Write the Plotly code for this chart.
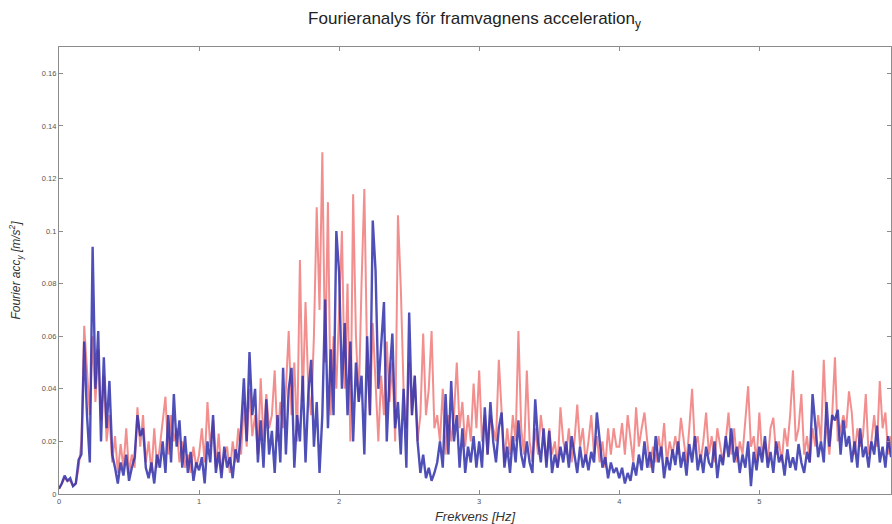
import plotly.graph_objects as go

# Frequency grid step (Hz) and number of samples
freq_step = 0.02
n_points = 298
freq = [round(i * freq_step, 2) for i in range(n_points)]

# Blue series: Fourier amplitude (m/s^2), rows of 0.2 Hz
blue_vals = [
    0.002, 0.004, 0.007, 0.005, 0.006, 0.003, 0.004, 0.013, 0.015, 0.058,
    0.030, 0.012, 0.094, 0.040, 0.062, 0.020, 0.052, 0.025, 0.043, 0.015,
    0.010, 0.004, 0.012, 0.007, 0.015, 0.005, 0.010, 0.014, 0.030, 0.022,
    0.025, 0.010, 0.006, 0.012, 0.004, 0.015, 0.010, 0.020, 0.008, 0.030,
    0.012, 0.038, 0.018, 0.028, 0.010, 0.022, 0.008, 0.016, 0.005, 0.012,
    0.009, 0.014, 0.004, 0.020, 0.012, 0.030, 0.008, 0.016, 0.006, 0.018,
    0.010, 0.014, 0.006, 0.017, 0.012, 0.025, 0.044, 0.020, 0.054, 0.030,
    0.040, 0.012, 0.028, 0.010, 0.036, 0.015, 0.024, 0.008, 0.030, 0.012,
    0.048, 0.015, 0.040, 0.048, 0.010, 0.030, 0.020, 0.045, 0.012, 0.038,
    0.051, 0.018, 0.035, 0.008, 0.030, 0.074, 0.025, 0.055, 0.030, 0.100,
    0.084, 0.040, 0.065, 0.030, 0.058, 0.020, 0.050, 0.035, 0.045, 0.015,
    0.060, 0.030, 0.104, 0.085, 0.040, 0.055, 0.073, 0.020, 0.045, 0.061,
    0.025, 0.035, 0.015, 0.040, 0.010, 0.069, 0.030, 0.045, 0.020, 0.008,
    0.015, 0.006, 0.010, 0.005, 0.008, 0.012, 0.020, 0.010, 0.038, 0.015,
    0.043, 0.020, 0.030, 0.010, 0.025, 0.008, 0.018, 0.012, 0.022, 0.010,
    0.020, 0.010, 0.033, 0.015, 0.035, 0.020, 0.012, 0.025, 0.031, 0.010,
    0.018, 0.008, 0.022, 0.012, 0.028, 0.015, 0.010, 0.020, 0.012, 0.008,
    0.036, 0.020, 0.012, 0.025, 0.010, 0.024, 0.008, 0.015, 0.010, 0.018,
    0.012, 0.020, 0.010, 0.022, 0.014, 0.008, 0.018, 0.010, 0.015, 0.009,
    0.016, 0.012, 0.031, 0.020, 0.010, 0.014, 0.006, 0.012, 0.008, 0.010,
    0.006, 0.010, 0.004, 0.008, 0.005, 0.012, 0.007, 0.015, 0.009, 0.020,
    0.010, 0.016, 0.008, 0.022, 0.012, 0.018, 0.006, 0.014, 0.009, 0.017,
    0.011, 0.020, 0.010, 0.016, 0.007, 0.019, 0.012, 0.022, 0.009, 0.015,
    0.008, 0.018, 0.012, 0.010, 0.020, 0.006, 0.015, 0.011, 0.022, 0.014,
    0.025, 0.012, 0.018, 0.008, 0.015, 0.010, 0.020, 0.003, 0.016, 0.009,
    0.018, 0.012, 0.022, 0.010, 0.016, 0.008, 0.020, 0.012, 0.015, 0.007,
    0.017, 0.010, 0.014, 0.009, 0.019, 0.012, 0.008, 0.016, 0.012, 0.038,
    0.025, 0.014, 0.020, 0.012, 0.035, 0.018, 0.030, 0.028, 0.032, 0.015,
    0.028, 0.018, 0.022, 0.012, 0.020, 0.010, 0.025, 0.014, 0.018, 0.010,
    0.020, 0.015, 0.026, 0.012, 0.018, 0.010, 0.022, 0.014,
]

# Red series: Fourier amplitude (m/s^2), rows of 0.2 Hz
red_vals = [
    0.002, 0.004, 0.006, 0.005, 0.005, 0.003, 0.004, 0.010, 0.020, 0.064,
    0.049, 0.030, 0.060, 0.035, 0.055, 0.028, 0.045, 0.020, 0.030, 0.012,
    0.022, 0.008, 0.019, 0.010, 0.025, 0.008, 0.015, 0.010, 0.033, 0.018,
    0.030, 0.012, 0.020, 0.008, 0.025, 0.010, 0.018, 0.028, 0.037, 0.015,
    0.030, 0.020, 0.025, 0.012, 0.020, 0.010, 0.015, 0.008, 0.018, 0.010,
    0.015, 0.025, 0.012, 0.035, 0.018, 0.028, 0.010, 0.023, 0.008, 0.015,
    0.018, 0.008, 0.020, 0.012, 0.025, 0.015, 0.035, 0.018, 0.040, 0.022,
    0.030, 0.015, 0.044, 0.020, 0.038, 0.025, 0.030, 0.047, 0.020, 0.035,
    0.025, 0.040, 0.062, 0.030, 0.050, 0.020, 0.089, 0.035, 0.073, 0.040,
    0.030, 0.060, 0.109, 0.070, 0.130, 0.050, 0.111, 0.030, 0.060, 0.040,
    0.070, 0.100, 0.040, 0.080, 0.020, 0.114, 0.060, 0.035, 0.080, 0.116,
    0.050, 0.030, 0.065, 0.040, 0.020, 0.045, 0.030, 0.058, 0.035, 0.050,
    0.020, 0.106, 0.079, 0.040, 0.025, 0.050, 0.030, 0.045, 0.020, 0.030,
    0.061, 0.030, 0.040, 0.062, 0.025, 0.030, 0.020, 0.040, 0.015, 0.030,
    0.020, 0.030, 0.050, 0.025, 0.035, 0.018, 0.030, 0.020, 0.042, 0.025,
    0.047, 0.020, 0.030, 0.015, 0.030, 0.025, 0.020, 0.051, 0.030, 0.012,
    0.025, 0.015, 0.030, 0.020, 0.062, 0.025, 0.015, 0.047, 0.020, 0.012,
    0.025, 0.015, 0.030, 0.020, 0.012, 0.025, 0.015, 0.020, 0.010, 0.033,
    0.020, 0.015, 0.025, 0.012, 0.020, 0.034, 0.018, 0.025, 0.012, 0.020,
    0.030, 0.015, 0.022, 0.012, 0.020, 0.010, 0.025, 0.015, 0.025, 0.018,
    0.018, 0.027, 0.015, 0.030, 0.020, 0.012, 0.033, 0.018, 0.025, 0.031,
    0.020, 0.010, 0.018, 0.012, 0.022, 0.015, 0.027, 0.012, 0.020, 0.015,
    0.022, 0.015, 0.029, 0.020, 0.012, 0.025, 0.040, 0.018, 0.022, 0.012,
    0.020, 0.031, 0.015, 0.022, 0.012, 0.025, 0.018, 0.012, 0.020, 0.031,
    0.015, 0.025, 0.012, 0.020, 0.015, 0.030, 0.041, 0.018, 0.022, 0.012,
    0.031, 0.015, 0.020, 0.012, 0.025, 0.029, 0.015, 0.020, 0.012, 0.025,
    0.018, 0.030, 0.047, 0.020, 0.025, 0.038, 0.015, 0.022, 0.012, 0.025,
    0.018, 0.030, 0.020, 0.051, 0.025, 0.015, 0.030, 0.052, 0.020, 0.025,
    0.030, 0.025, 0.039, 0.031, 0.015, 0.025, 0.018, 0.022, 0.038, 0.015,
    0.020, 0.030, 0.018, 0.043, 0.025, 0.031, 0.015, 0.022,
]

x_tick_vals = [0, 1, 2, 3, 4, 5]
x_tick_text = ["0", "1", "2", "3", "4", "5"]
y_tick_vals = [0, 0.02, 0.04, 0.06, 0.08, 0.1, 0.12, 0.14, 0.16]
y_tick_text = ["0", "0.02", "0.04", "0.06", "0.08", "0.1", "0.12", "0.14", "0.16"]

fig = go.Figure()
fig.add_trace(go.Scatter(
    x=freq[:len(red_vals)], y=red_vals, mode="lines",
    line=dict(color="rgba(238,98,98,0.72)", width=2.0),
    showlegend=False, hoverinfo="x+y",
))
fig.add_trace(go.Scatter(
    x=freq[:len(blue_vals)], y=blue_vals, mode="lines",
    line=dict(color="rgba(48,48,172,0.85)", width=2.4),
    showlegend=False, hoverinfo="x+y",
))

axis_common = dict(
    showgrid=False, zeroline=False, showline=True, linecolor="#8c8c8c",
    linewidth=1.2, mirror="ticks", ticks="inside", ticklen=4,
    tickcolor="#8c8c8c", tickfont=dict(family="Arial, Liberation Sans", size=7.5, color="#555555"),
)

fig.update_layout(
    width=892, height=524,
    paper_bgcolor="white", plot_bgcolor="white",
    margin=dict(l=59, r=1, t=47, b=30),
    title=dict(
        text="Fourieranalys för framvagnens acceleration<sub>y</sub>",
        x=0.532, xanchor="center", y=0.965, yanchor="middle",
        font=dict(family="Arial, Liberation Sans", size=17, color="#222222"),
    ),
    xaxis=dict(
        range=[0, 5.94], tickvals=x_tick_vals, ticktext=x_tick_text,
        title=dict(text="<i>Frekvens [Hz]</i>", standoff=6,
                   font=dict(family="Arial, Liberation Sans", size=13, color="#333333")),
        **axis_common,
    ),
    yaxis=dict(
        range=[0, 0.17], tickvals=y_tick_vals, ticktext=y_tick_text,
        title=dict(text="<i>Fourier acc<sub>y</sub> [m/s<sup>2</sup>]</i>", standoff=18,
                   font=dict(family="Arial, Liberation Sans", size=12, color="#333333")),
        **axis_common,
    ),
)

fig.write_html("out.html")
